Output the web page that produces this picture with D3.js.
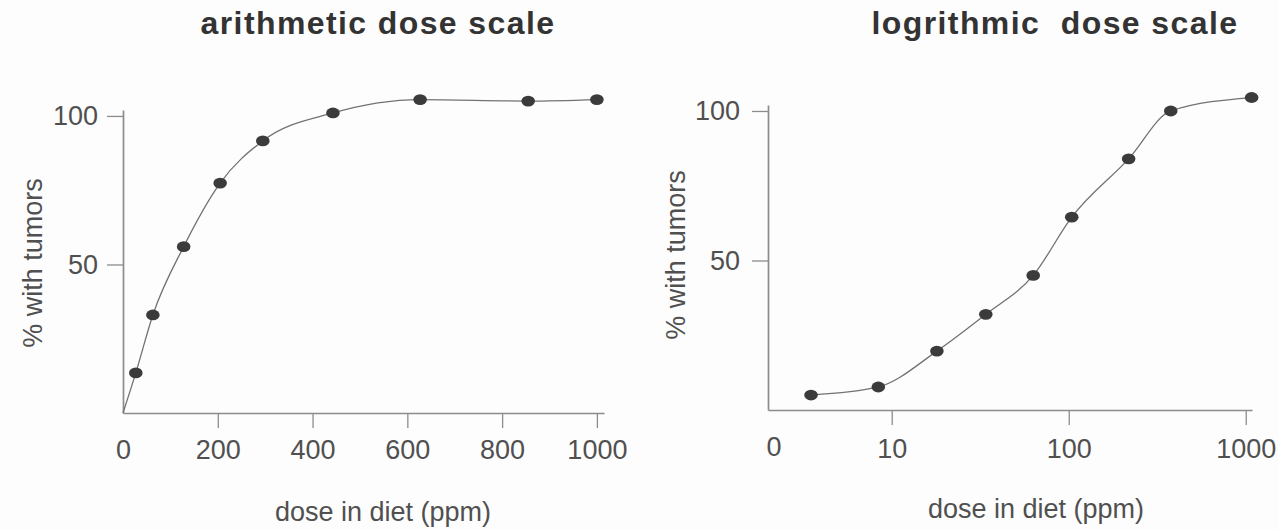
<!DOCTYPE html>
<html>
<head>
<meta charset="utf-8">
<script src="https://cdn.jsdelivr.net/npm/d3@7/dist/d3.min.js"></script>
<style>
  html, body { margin: 0; padding: 0; background: #fdfdfd; }
  svg { display: block; }
  text { font-family: "Liberation Sans", Arial, Helvetica, sans-serif; }
</style>
</head>
<body>
<script>
// Tumor incidence vs. dose — same response plotted on two dose scales.

// arithmetic panel
const linDose = [27, 63, 128, 205, 295, 443, 627, 855, 1000];
const linPct  = [13.5, 33, 56, 77.4, 91.6, 101, 105.5, 105, 105.5];
const linTicks = [0, 200, 400, 600, 800, 1000];

// logarithmic panel
const logDose = [3.5, 8.4, 18, 34, 63, 104, 218, 377, 1080];
const logPct  = [5, 7.7, 19.7, 32, 45, 64.5, 84, 100, 104.5];
const logTicks = [10, 100, 1000];

const pctTicks = [50, 100];

const titles = ["arithmetic dose scale", "logrithmic  dose scale"];
const xTitle = "dose in diet (ppm)";
const yTitle = "% with tumors";

const W = 1278, H = 530;
const axisColor = "#8c8c8c";
const lineColor = "#727272";
const dotColor = "#3b3b3b";
const labelColor = "#505050";

const svg = d3.select("body").append("svg")
  .attr("width", W).attr("height", H);

function styleAxis(g) {
  g.select(".domain").attr("stroke", axisColor).attr("stroke-width", 1.7);
  g.selectAll(".tick line").attr("stroke", axisColor).attr("stroke-width", 1.3);
  g.selectAll(".tick text")
    .attr("fill", labelColor)
    .style("font-size", "27px");
}

function drawPanel(cfg) {
  const { x, y, xAxis, doses, pcts, startAtOrigin, title, titleX, yTitleX, yTitleY, xTitleX, xTitleY, tickPad } = cfg;
  const g = svg.append("g");

  // title
  g.append("text")
    .attr("x", titleX).attr("y", 34)
    .attr("text-anchor", "middle")
    .style("font-size", "32px")
    .style("font-weight", "bold")
    .style("letter-spacing", "1.4px")
    .style("white-space", "pre")
    .attr("fill", "#333")
    .text(title);

  // x axis
  const gx = g.append("g")
    .attr("transform", `translate(0,${y(0)})`)
    .call(xAxis.tickSize(15).tickSizeOuter(0).tickPadding(tickPad));
  styleAxis(gx);
  gx.selectAll(".tick").filter(d => d === 0).select("line").remove();

  // y axis
  const gy = g.append("g")
    .attr("transform", `translate(${x.range()[0]},0)`)
    .call(d3.axisLeft(y).tickValues(pctTicks).tickSize(16).tickSizeOuter(0).tickPadding(cfg.yPad));
  styleAxis(gy);

  // axis titles
  g.append("text")
    .attr("x", xTitleX).attr("y", xTitleY)
    .attr("text-anchor", "middle")
    .style("font-size", "27px")
    .attr("fill", labelColor)
    .text(xTitle);

  g.append("text")
    .attr("transform", `translate(${yTitleX},${yTitleY}) rotate(-90)`)
    .attr("text-anchor", "middle")
    .style("font-size", "27px")
    .attr("fill", labelColor)
    .text(yTitle);

  // response curve
  const pts = doses.map((d, i) => [d, pcts[i]]);
  const curvePts = startAtOrigin ? [[0, 0], ...pts] : pts;
  const line = d3.line()
    .x(d => x(d[0]))
    .y(d => y(d[1]))
    .curve(d3.curveMonotoneX);
  g.append("path")
    .datum(curvePts)
    .attr("d", line)
    .attr("fill", "none")
    .attr("stroke", lineColor)
    .attr("stroke-width", 1.3);

  // data points
  g.selectAll("ellipse.pt")
    .data(pts)
    .join("ellipse")
    .attr("class", "pt")
    .attr("cx", d => x(d[0]))
    .attr("cy", d => y(d[1]))
    .attr("rx", 6.8)
    .attr("ry", 5.4)
    .attr("fill", dotColor);

  return g;
}

// arithmetic dose scale
const xLin = d3.scaleLinear().domain([0, 1015]).range([123, 604]);
const yLin = d3.scaleLinear().domain([0, 102]).range([413, 110]);
drawPanel({
  x: xLin, y: yLin,
  xAxis: d3.axisBottom(xLin).tickValues(linTicks).tickFormat(d3.format("d")),
  doses: linDose, pcts: linPct, startAtOrigin: true,
  title: titles[0], titleX: 378,
  yTitleX: 42, yTitleY: 263,
  xTitleX: 383, xTitleY: 521,
  tickPad: 12, yPad: 9
});

// logarithmic dose scale
const xLog = d3.scaleLog().domain([2, 1085]).range([768, 1252]);
const yLog = d3.scaleLinear().domain([0, 102]).range([410, 105]);
const gLog = drawPanel({
  x: xLog, y: yLog,
  xAxis: d3.axisBottom(xLog).tickValues(logTicks).tickFormat(d3.format("d")),
  doses: logDose, pcts: logPct, startAtOrigin: false,
  title: titles[1], titleX: 1055,
  yTitleX: 685, yTitleY: 255,
  xTitleX: 1036, xTitleY: 518,
  tickPad: 14, yPad: 12
});

// zero label at the start of the log axis
gLog.append("text")
  .attr("x", xLog.range()[0] + 6)
  .attr("y", yLog(0) + 15 + 12)
  .attr("dy", "0.71em")
  .attr("text-anchor", "middle")
  .style("font-size", "27px")
  .attr("fill", labelColor)
  .text("0");
</script>
</body>
</html>
